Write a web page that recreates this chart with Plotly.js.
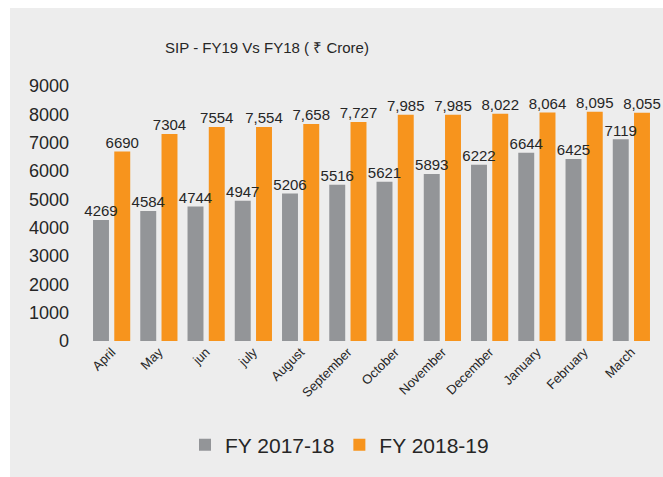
<!DOCTYPE html>
<html>
<head>
<meta charset="utf-8">
<script src="https://cdn.plot.ly/plotly-3.0.1.min.js"></script>
<style>
html,body{margin:0;padding:0;background:#ffffff;}
#chart{position:absolute;left:10px;top:8px;width:653px;height:469px;}
</style>
</head>
<body>
<div id="chart"></div>
<script>
const months = ["April","May","jun","july","August","September","October","November","December","January","February","March"];
const fy18 = [4269,4584,4744,4947,5206,5516,5621,5893,6222,6644,6425,7119];
const fy19 = [6690,7304,7554,7554,7658,7727,7985,7985,8022,8064,8095,8055];
const fy18Labels = ["4269","4584","4744","4947","5206","5516","5621","5893","6222","6644","6425","7119"];
const fy19Labels = ["6690","7304","7554","7,554","7,658","7,727","7,985","7,985","8,022","8,064","8,095","8,055"];
const yTicks = [0,1000,2000,3000,4000,5000,6000,7000,8000,9000];

const fontFam = '"Liberation Sans", Arial, sans-serif';
const txtColor = '#262626';
const grey = '#939598';
const orange = '#f7941d';

const traces = [
  {type:'bar', name:'FY 2017-18', x:months, y:fy18, offsetgroup:'a',
   marker:{color:grey}, hoverinfo:'x+y'},
  {type:'bar', name:'FY 2018-19', x:months, y:fy19, offsetgroup:'b',
   marker:{color:orange}, hoverinfo:'x+y'},
  {type:'scatter', mode:'text', x:months, y:fy18, text:fy18Labels, offsetgroup:'a',
   textposition:'top center', textfont:{size:15, color:txtColor, family:fontFam},
   cliponaxis:false, showlegend:false, hoverinfo:'skip'},
  {type:'scatter', mode:'text', x:months, y:fy19, text:fy19Labels, offsetgroup:'b',
   textposition:'top center', textfont:{size:15, color:txtColor, family:fontFam},
   cliponaxis:false, showlegend:false, hoverinfo:'skip'}
];

const layout = {
  width:653, height:469,
  paper_bgcolor:'#ededed', plot_bgcolor:'#ededed',
  margin:{l:78, r:8, t:78, b:136},
  font:{family:fontFam, color:txtColor},
  title:{text:'SIP - FY19 Vs FY18 ( ₹ Crore)', font:{size:15, color:txtColor, family:fontFam},
         xref:'container', x:257/653, xanchor:'center', yref:'container', y:1-40/469, yanchor:'middle'},
  barmode:'group', bargap:0.1, bargroupgap:0.25,
  scattermode:'group', scattergap:0.1,
  xaxis:{type:'category', tickangle:-45, tickfont:{size:13, color:txtColor}, showgrid:false,
         zeroline:false, showline:false, ticks:''},
  yaxis:{range:[0,9000], tickvals:yTicks, ticktext:yTicks.map(String), tickfont:{size:18, color:txtColor},
         showgrid:false, zeroline:false, showline:false, ticks:'', ticklabelstandoff:18},
  showlegend:true,
  legend:{orientation:'h', xref:'container', x:175/653, xanchor:'left', yref:'container', y:1-437/469, yanchor:'middle',
          font:{size:21, color:txtColor}, bgcolor:'rgba(0,0,0,0)', itemwidth:30, traceorder:'normal'}
};

Plotly.newPlot('chart', traces, layout, {displayModeBar:false, staticPlot:true});
</script>
</body>
</html>
